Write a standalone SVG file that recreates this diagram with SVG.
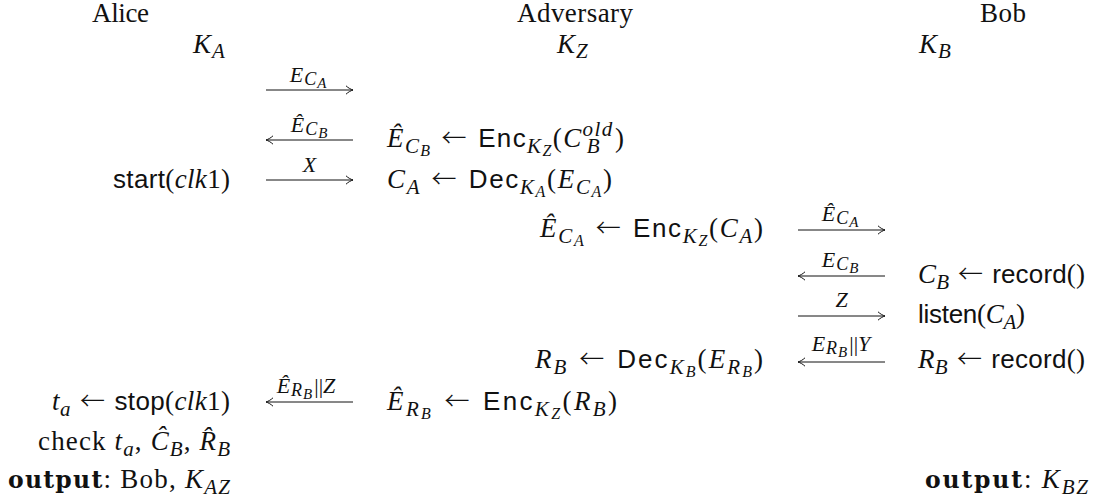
<svg xmlns="http://www.w3.org/2000/svg" width="1093" height="497" viewBox="0 0 1093 497">
<style>
.t{font-family:"Liberation Serif","DejaVu Serif",serif;font-size:27px;fill:#111}
.i{font-style:italic}
.sf{font-family:"Liberation Sans","DejaVu Sans",sans-serif;font-style:normal;font-size:26px}
.ar{font-family:"Noto Sans CJK JP","DejaVu Sans",sans-serif;font-style:normal;font-size:25px;font-weight:300}
.s{font-size:21px}
.ss{font-size:16px}
.l{font-size:22px}
.l2{font-size:18px}
.l3{font-size:15px}
.b{font-family:"DejaVu Serif",serif;font-weight:bold;font-size:23.5px}
.arr{stroke:#111;stroke-width:1;fill:none}
</style>
<defs>
<marker id="ah" markerUnits="userSpaceOnUse" markerWidth="12" markerHeight="12" refX="10" refY="6" orient="auto" overflow="visible">
<path d="M3,1.8 C5,3.8 8,5.4 10,6 C8,6.6 5,8.2 3,10.2" fill="none" stroke="#111" stroke-width="1"/>
</marker>
</defs>
<rect width="1093" height="497" fill="#fff"/>

<g id="alice">
<text class="t" x="92" y="22" textLength="57" lengthAdjust="spacing">Alice</text>
<text class="t i" x="193" y="53">K<tspan class="s" dx="1" dy="5">A</tspan></text>
</g>
<g id="adversary">
<text class="t" x="517" y="22" textLength="116" lengthAdjust="spacing">Adversary</text>
<text class="t i" x="557" y="53">K<tspan class="s" dx="1" dy="5">Z</tspan></text>
</g>
<g id="bob">
<text class="t" x="980" y="22" textLength="46" lengthAdjust="spacing">Bob</text>
<text class="t i" x="919" y="53">K<tspan class="s" dx="1" dy="5">B</tspan></text>
</g>

<g id="adv-enc-old">
<text class="t" x="387" y="147" textLength="237" lengthAdjust="spacing"><tspan class="i">Ê</tspan><tspan class="i s" dy="6">C</tspan><tspan class="i ss" dy="3">B</tspan><tspan dy="-9" dx="2"> </tspan><tspan class="ar">←</tspan><tspan dx="2"> </tspan><tspan class="sf">Enc</tspan><tspan class="i s" dy="6">K</tspan><tspan class="i ss" dy="3">Z</tspan><tspan dy="-9">(</tspan><tspan class="i">C</tspan><tspan class="i s" dy="-11">old</tspan><tspan class="i s" dx="-26.8" dy="17">B</tspan><tspan dx="14" dy="-6">)</tspan></text>
</g>
<g id="alice-start">
<text class="t" x="113" y="188" textLength="117" lengthAdjust="spacing"><tspan class="sf">start</tspan>(<tspan class="i">clk</tspan>1)</text>
</g>
<g id="adv-dec-a">
<text class="t" x="387" y="188" textLength="225" lengthAdjust="spacing"><tspan class="i">C</tspan><tspan class="i s" dy="6">A</tspan><tspan dy="-6" dx="2"> </tspan><tspan class="ar">←</tspan><tspan dx="2"> </tspan><tspan class="sf">Dec</tspan><tspan class="i s" dy="6">K</tspan><tspan class="i ss" dy="3">A</tspan><tspan dy="-9">(</tspan><tspan class="i">E</tspan><tspan class="i s" dy="6">C</tspan><tspan class="i ss" dy="3">A</tspan><tspan dy="-9">)</tspan></text>
</g>
<g id="adv-enc-a">
<text class="t" x="540" y="237" textLength="223" lengthAdjust="spacing"><tspan class="i">Ê</tspan><tspan class="i s" dy="6">C</tspan><tspan class="i ss" dy="3">A</tspan><tspan dy="-9" dx="2"> </tspan><tspan class="ar">←</tspan><tspan dx="2"> </tspan><tspan class="sf">Enc</tspan><tspan class="i s" dy="6">K</tspan><tspan class="i ss" dy="3">Z</tspan><tspan dy="-9">(</tspan><tspan class="i">C</tspan><tspan class="i s" dy="6">A</tspan><tspan dy="-6">)</tspan></text>
</g>
<g id="bob-record-c">
<text class="t" x="918" y="283" textLength="167" lengthAdjust="spacing"><tspan class="i">C</tspan><tspan class="i s" dy="6">B</tspan><tspan dy="-6" dx="2"> </tspan><tspan class="ar">←</tspan><tspan dx="2"> </tspan><tspan class="sf">record</tspan>()</text>
</g>
<g id="bob-listen">
<text class="t" x="918" y="323" textLength="107" lengthAdjust="spacing"><tspan class="sf">listen</tspan>(<tspan class="i">C</tspan><tspan class="i s" dy="6">A</tspan><tspan dy="-6">)</tspan></text>
</g>
<g id="adv-dec-b">
<text class="t" x="535" y="368" textLength="228" lengthAdjust="spacing"><tspan class="i">R</tspan><tspan class="i s" dy="6">B</tspan><tspan dy="-6" dx="2"> </tspan><tspan class="ar">←</tspan><tspan dx="2"> </tspan><tspan class="sf">Dec</tspan><tspan class="i s" dy="6">K</tspan><tspan class="i ss" dy="3">B</tspan><tspan dy="-9">(</tspan><tspan class="i">E</tspan><tspan class="i s" dy="6">R</tspan><tspan class="i ss" dy="3">B</tspan><tspan dy="-9">)</tspan></text>
</g>
<g id="bob-record-r">
<text class="t" x="918" y="368" textLength="167" lengthAdjust="spacing"><tspan class="i">R</tspan><tspan class="i s" dy="6">B</tspan><tspan dy="-6" dx="2"> </tspan><tspan class="ar">←</tspan><tspan dx="2"> </tspan><tspan class="sf">record</tspan>()</text>
</g>
<g id="alice-stop">
<text class="t" x="52" y="410" textLength="178" lengthAdjust="spacing"><tspan class="i">t</tspan><tspan class="i s" dy="6">a</tspan><tspan dy="-6" dx="2"> </tspan><tspan class="ar">←</tspan><tspan dx="2"> </tspan><tspan class="sf">stop</tspan>(<tspan class="i">clk</tspan>1)</text>
</g>
<g id="adv-enc-r">
<text class="t" x="387" y="410" textLength="230" lengthAdjust="spacing"><tspan class="i">Ê</tspan><tspan class="i s" dy="6">R</tspan><tspan class="i ss" dy="3">B</tspan><tspan dy="-9" dx="2"> </tspan><tspan class="ar">←</tspan><tspan dx="2"> </tspan><tspan class="sf">Enc</tspan><tspan class="i s" dy="6">K</tspan><tspan class="i ss" dy="3">Z</tspan><tspan dy="-9">(</tspan><tspan class="i">R</tspan><tspan class="i s" dy="6">B</tspan><tspan dy="-6">)</tspan></text>
</g>
<g id="alice-check">
<text class="t" x="38" y="450" textLength="192" lengthAdjust="spacing">check <tspan class="i">t</tspan><tspan class="i s" dy="6">a</tspan><tspan dy="-6">, </tspan><tspan class="i">Ĉ</tspan><tspan class="i s" dy="6">B</tspan><tspan dy="-6">, </tspan><tspan class="i">R̂</tspan><tspan class="i s" dy="6">B</tspan></text>
</g>
<g id="alice-output">
<text class="t" x="8" y="488" textLength="222" lengthAdjust="spacing"><tspan class="b">output</tspan>: Bob, <tspan class="i">K</tspan><tspan class="i s" dy="6">AZ</tspan></text>
</g>
<g id="bob-output">
<text class="t" x="925" y="488" textLength="163" lengthAdjust="spacing"><tspan class="b">output</tspan>: <tspan class="i">K</tspan><tspan class="i s" dy="6">BZ</tspan></text>
</g>

<g id="connectors">
<line class="arr" x1="266" y1="90" x2="353" y2="90" marker-end="url(#ah)"/>
<text class="t i l" x="308" y="82" text-anchor="middle">E<tspan class="l2" dx="1" dy="3">C</tspan><tspan class="l3" dx="1" dy="3">A</tspan></text>
<line class="arr" x1="353" y1="140" x2="266" y2="140" marker-end="url(#ah)"/>
<text class="t i l" x="309" y="132" text-anchor="middle">Ê<tspan class="l2" dx="1" dy="3">C</tspan><tspan class="l3" dx="1" dy="3">B</tspan></text>
<line class="arr" x1="266" y1="180" x2="353" y2="180" marker-end="url(#ah)"/>
<text class="t i l" x="309.5" y="172" text-anchor="middle">X</text>
<line class="arr" x1="798" y1="230" x2="885" y2="230" marker-end="url(#ah)"/>
<text class="t i l" x="840" y="221" text-anchor="middle">Ê<tspan class="l2" dx="1" dy="3">C</tspan><tspan class="l3" dx="1" dy="3">A</tspan></text>
<line class="arr" x1="885" y1="276" x2="798" y2="276" marker-end="url(#ah)"/>
<text class="t i l" x="840" y="267" text-anchor="middle">E<tspan class="l2" dx="1" dy="3">C</tspan><tspan class="l3" dx="1" dy="3">B</tspan></text>
<line class="arr" x1="798" y1="316" x2="885" y2="316" marker-end="url(#ah)"/>
<text class="t i l" x="841.5" y="307" text-anchor="middle">Z</text>
<line class="arr" x1="885" y1="362" x2="798" y2="362" marker-end="url(#ah)"/>
<text class="t i l" x="841" y="351" text-anchor="middle">E<tspan class="l2" dx="1" dy="3">R</tspan><tspan class="l3" dx="1" dy="3">B</tspan><tspan dx="2" dy="-6" font-style="normal">||</tspan>Y</text>
<line class="arr" x1="353" y1="402" x2="266" y2="402" marker-end="url(#ah)"/>
<text class="t i l" x="306" y="393" text-anchor="middle">Ê<tspan class="l2" dx="1" dy="3">R</tspan><tspan class="l3" dx="1" dy="3">B</tspan><tspan dx="2" dy="-6" font-style="normal">||</tspan>Z</text>
</g>
</svg>
